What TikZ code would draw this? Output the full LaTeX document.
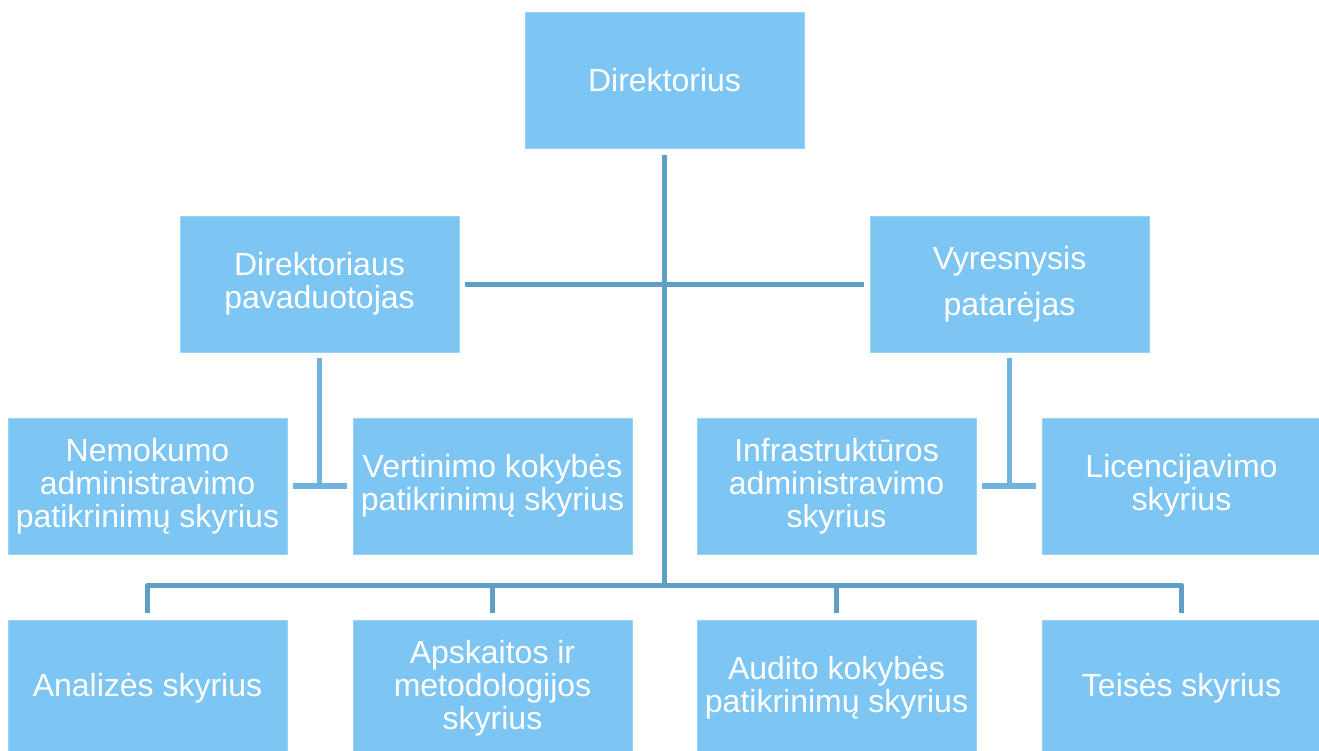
\documentclass[tikz,border=0pt]{standalone}
\usepackage{fontspec}
\setmainfont{Liberation Sans}
\definecolor{boxblue}{HTML}{7DC5F2}
\definecolor{boxedge}{HTML}{9AD2F5}
\definecolor{busline}{HTML}{5F9FC4}
\definecolor{tline}{HTML}{70B3DF}
\begin{document}
\begin{tikzpicture}[x=1pt,y=-1pt,
  orgbox/.style={fill=boxblue,draw=boxedge,line width=0.8pt,minimum width=279pt,minimum height=136pt,
    inner sep=0pt,align=center,text=white,font=\fontsize{32}{33}\selectfont},
  busconn/.style={draw=busline,line width=5pt,line join=round,line cap=butt},
  tconn/.style={draw=tline,line width=5.5pt,line cap=butt}]
\useasboundingbox (0,0) rectangle (1319,751);
\node[orgbox] (dir) at (664.5,80) {Direktorius};
\node[orgbox] (dep) at (319.5,284) {Direktoriaus\\pavaduotojas};
\node[orgbox] (adv) at (1009.5,284) {Vyresnysis\\[13pt]patarėjas};
\node[orgbox] (nem) at (147.5,486) {Nemokumo\\administravimo\\patikrinimų skyrius};
\node[orgbox] (ver) at (492.5,486) {Vertinimo kokybės\\patikrinimų skyrius};
\node[orgbox] (inf) at (836.5,486) {Infrastruktūros\\administravimo\\skyrius};
\node[orgbox] (lic) at (1181.5,486) {Licencijavimo\\skyrius};
\node[orgbox] (ana) at (147.5,688) {Analizės skyrius};
\node[orgbox] (aps) at (492.5,688) {Apskaitos ir\\metodologijos\\skyrius};
\node[orgbox] (aud) at (836.5,688) {Audito kokybės\\patikrinimų skyrius};
\node[orgbox] (tei) at (1181.5,688) {Teisės skyrius};
\coordinate (bus) at (664.5,585);
% main trunk
\draw[busconn] ([yshift=-7pt]dir.south) -- (bus);
\draw[busconn] ([xshift=6pt]dep.east) -- ([xshift=-6pt]adv.west);
% bottom bus
\draw[busconn] ([yshift=7pt]ana.north) |- (bus) -| ([yshift=7pt]tei.north);
\draw[busconn] ([yshift=7pt]aps.north) -- (aps.north |- bus);
\draw[busconn] ([yshift=7pt]aud.north) -- (aud.north |- bus);
% side T connectors
\draw[tconn] ([yshift=-6pt]dep.south) -- (dep.south |- nem.east);
\draw[tconn] ([xshift=6pt]nem.east) -- ([xshift=-6pt]ver.west);
\draw[tconn] ([yshift=-6pt]adv.south) -- (adv.south |- inf.east);
\draw[tconn] ([xshift=6pt]inf.east) -- ([xshift=-6pt]lic.west);
\end{tikzpicture}
\end{document}
